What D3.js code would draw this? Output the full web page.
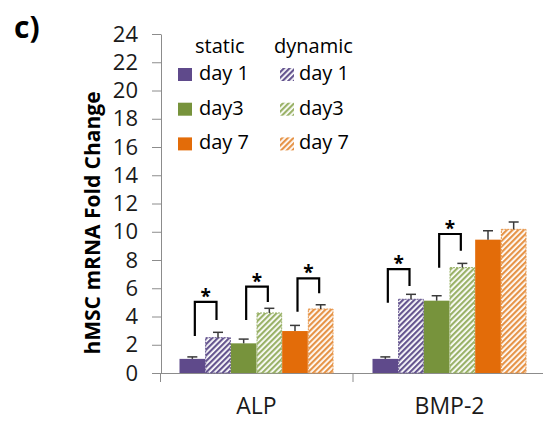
<!DOCTYPE html>
<html>
<head>
<meta charset="utf-8">
<script src="https://cdn.jsdelivr.net/npm/d3@7"></script>
<style>
  body { margin: 0; background: #fff; }
  text { font-family: "Open Sans", sans-serif; }
</style>
</head>
<body>
<div id="chart"></div>
<script>
// data
var genes = ["ALP", "BMP-2"];
var days = ["day 1", "day3", "day 7"];
var staticMean = [[1.0, 2.1, 2.97], [1.0, 5.12, 9.44]];
var staticErr = [[0.14, 0.3, 0.4], [0.14, 0.35, 0.63]];
var dynamicMean = [[2.5, 4.25, 4.53], [5.22, 7.46, 10.17]];
var dynamicErr = [[0.38, 0.33, 0.3], [0.35, 0.3, 0.52]];
var yTicks = [0, 2, 4, 6, 8, 10, 12, 14, 16, 18, 20, 22, 24];

// significance brackets (gene, day, left leg bottom, bar top, right leg bottom)
var sigGene = [0, 0, 0, 1, 1];
var sigDay = [0, 1, 2, 0, 1];
var sigLeft = [2.62, 3.75, 4.34, 4.98, 7.45];
var sigTop = [5.03, 6.11, 6.70, 7.36, 9.84];
var sigRight = [3.75, 5.03, 5.64, 6.16, 8.66];

var staticColors = ["#5f4a8b", "#77933c", "#e36c09"];
var stripeColors = ["#65558f", "#9ab268", "#e69448"];

var W = 543, H = 423;
var svg = d3.select("#chart").append("svg")
    .attr("width", W)
    .attr("height", H);

var defs = svg.append("defs");
stripeColors.forEach(function(c, i){
    var p = defs.append("pattern")
        .attr("id", "hatch" + i)
        .attr("patternUnits", "userSpaceOnUse")
        .attr("width", 4)
        .attr("height", 4)
        .attr("patternTransform", "rotate(45)");
    p.append("rect").attr("width", 4).attr("height", 4).attr("fill", "#fff");
    p.append("rect").attr("width", 2.2).attr("height", 4).attr("fill", c);
});

var x0 = d3.scaleBand().domain(genes).range([160, 546]);
var keys = [];
days.forEach(function(d, i){ keys.push("s" + i); keys.push("d" + i); });
var x1 = d3.scaleBand().domain(keys).range([19.5, x0.bandwidth() - 19.5]);
var y = d3.scaleLinear().domain([0, 24]).range([373, 34]);

// y axis
var yAxis = d3.axisLeft(y)
    .tickValues(yTicks)
    .tickSize(9)
    .tickSizeOuter(0)
    .tickPadding(14);
var gy = svg.append("g")
    .attr("transform", "translate(161,0)")
    .call(yAxis);
gy.select(".domain").attr("stroke", "#8c8c8c");
gy.selectAll(".tick line").attr("stroke", "#8c8c8c");
gy.selectAll(".tick text")
    .attr("font-size", "22px")
    .attr("fill", "#1a1a1a")
    .style("font-family", "'Open Sans', sans-serif");

// x axis
var xAxis = d3.axisBottom(x0)
    .tickSize(0)
    .tickSizeOuter(9)
    .tickPadding(25);
var gx = svg.append("g")
    .attr("transform", "translate(0,373)")
    .call(xAxis);
gx.select(".domain").attr("stroke", "#8c8c8c");
gx.selectAll(".tick text")
    .attr("font-size", "23px")
    .attr("fill", "#1a1a1a")
    .style("font-family", "'Open Sans', sans-serif");
gx.selectAll(".mid")
    .data(genes.slice(1))
    .enter()
    .append("line")
    .attr("x1", function(d){ return x0(d); })
    .attr("x2", function(d){ return x0(d); })
    .attr("y1", 0)
    .attr("y2", 9)
    .attr("stroke", "#8c8c8c");

// bars
var bars = [];
genes.forEach(function(g, gi){
    days.forEach(function(d, di){
        bars.push({gene: g, key: "s" + di, day: di, v: staticMean[gi][di], e: staticErr[gi][di], dyn: false});
        bars.push({gene: g, key: "d" + di, day: di, v: dynamicMean[gi][di], e: dynamicErr[gi][di], dyn: true});
    });
});

function bx(d){ return x0(d.gene) + x1(d.key); }

svg.append("g").selectAll("rect")
    .data(bars)
    .enter()
    .append("rect")
    .attr("x", function(d){ return bx(d) + (d.dyn ? 0.5 : 0); })
    .attr("width", function(d){ return x1.bandwidth() - (d.dyn ? 1 : 0); })
    .attr("y", function(d){ return y(d.v); })
    .attr("height", function(d){ return y(0) - y(d.v); })
    .attr("fill", function(d){ return d.dyn ? "url(#hatch" + d.day + ")" : staticColors[d.day]; })
    .attr("stroke", function(d){ return d.dyn ? stripeColors[d.day] : "none"; })
    .attr("stroke-width", 1)
    .attr("stroke-dasharray", "2,1");

// error bars (upper only)
var eb = svg.append("g").attr("stroke", "#3a3a3a").attr("stroke-width", 1.5);
bars.forEach(function(d){
    var cx = bx(d) + x1.bandwidth() / 2;
    eb.append("line")
        .attr("x1", cx).attr("x2", cx)
        .attr("y1", y(d.v)).attr("y2", y(d.v + d.e));
    eb.append("line")
        .attr("x1", cx - 5).attr("x2", cx + 5)
        .attr("y1", y(d.v + d.e)).attr("y2", y(d.v + d.e));
});

// significance brackets
var sg = svg.append("g");
sigGene.forEach(function(gi, i){
    var g = genes[gi];
    var di = sigDay[i];
    var xl = x0(g) + x1("s" + di) + x1.bandwidth() / 2 + 2.5;
    var xr = x0(g) + x1("d" + di) + x1.bandwidth() / 2 - 1.5;
    sg.append("path")
        .attr("d", "M" + xl + "," + y(sigLeft[i]) + "V" + y(sigTop[i]) + "H" + xr + "V" + y(sigRight[i]))
        .attr("fill", "none")
        .attr("stroke", "#000")
        .attr("stroke-width", 2.2);
    sg.append("text")
        .attr("x", (xl + xr) / 2)
        .attr("y", y(sigTop[i]) + 1)
        .attr("text-anchor", "middle")
        .attr("font-size", "19px")
        .attr("font-weight", "bold")
        .text("*");
});

// legend
var lg = svg.append("g").attr("font-size", "20px").attr("fill", "#000");
lg.append("text").attr("x", 195).attr("y", 52.5).text("static");
lg.append("text").attr("x", 274).attr("y", 52.5).text("dynamic");
days.forEach(function(d, i){
    var base = 80 + i * 34.7;
    lg.append("rect")
        .attr("x", 178).attr("y", base - 12)
        .attr("width", 14).attr("height", 13)
        .attr("fill", staticColors[i]);
    lg.append("text").attr("x", 199).attr("y", base).text(d);
    lg.append("rect")
        .attr("x", 280).attr("y", base - 12)
        .attr("width", 14).attr("height", 13)
        .attr("fill", "url(#hatch" + i + ")");
    lg.append("text").attr("x", 299).attr("y", base).text(d);
});

// y label
svg.append("text")
    .attr("transform", "translate(100,223)rotate(-90)")
    .attr("text-anchor", "middle")
    .attr("font-size", "21px")
    .attr("font-weight", "bold")
    .text("hMSC mRNA Fold Change");

// panel label
svg.append("text")
    .attr("x", 14)
    .attr("y", 38)
    .attr("font-size", "30px")
    .attr("font-weight", "bold")
    .text("c)");
</script>
</body>
</html>
